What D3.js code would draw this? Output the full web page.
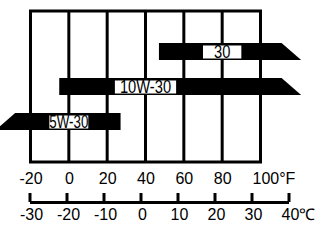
<!DOCTYPE html>
<html>
<head>
<meta charset="utf-8">
<script src="https://cdn.jsdelivr.net/npm/d3@7"></script>
<style>
  body { margin: 0; background: #fff; }
  svg { display: block; }
</style>
</head>
<body>
<svg id="chart" width="327" height="241"></svg>
<script>
// oil grades and their temperature ranges (deg F)
var grades = ['30', '10W-30', '5W-30'];
var lowF = [47, -5, -28];
var highF = [111, 111, 27];
var openEnd = ['right', 'right', 'left'];
var labelAtF = [80, 40, 0];

var fTicks = [-20, 0, 20, 40, 60, 80, 100];
var cTicks = [-30, -20, -10, 0, 10, 20, 30, 40];

// style
var labelPad = [11, 5, 0];
var labelSquash = [0.84, 0.84, 0.76];
var ink = '#000';

var svg = d3.select('#chart');

var x = d3.scaleLinear().domain([-20, 100]).range([30.5, 260.5]);
var xc = d3.scaleLinear().domain([-30, 40]).range([29.5, 288.5]);
var y = d3.scaleBand().domain(grades).range([43, 130]).paddingInner(0.514);

var boxTop = 11, boxBottom = 162;

// grid
svg.append('g').selectAll('line')
  .data(fTicks)
  .enter().append('line')
  .attr('x1', function(d) { return x(d); })
  .attr('x2', function(d) { return x(d); })
  .attr('y1', boxTop)
  .attr('y2', boxBottom)
  .attr('stroke', ink)
  .attr('stroke-width', 3);

svg.append('rect')
  .attr('x', x(-20)).attr('y', boxTop)
  .attr('width', x(100) - x(-20)).attr('height', boxBottom - boxTop)
  .attr('fill', 'none').attr('stroke', ink).attr('stroke-width', 3);

// bars
var bars = grades.map(function(g, i) {
  return { name: g, lo: lowF[i], hi: highF[i], end: openEnd[i], at: labelAtF[i], pad: labelPad[i], sq: labelSquash[i] };
});

var bh = y.bandwidth();
var slant = bh * 1.15;

svg.append('g').selectAll('path')
  .data(bars)
  .enter().append('path')
  .attr('fill', ink)
  .attr('d', function(d) {
    var y0 = y(d.name), y1 = y0 + bh;
    var x0 = x(d.lo), x1 = x(d.hi);
    if (d.end === 'right') {
      return 'M' + x0 + ',' + y0 + 'L' + x1 + ',' + y0 + 'L' + (x1 + slant) + ',' + y1 + 'L' + x0 + ',' + y1 + 'Z';
    }
    return 'M' + x0 + ',' + y0 + 'L' + x1 + ',' + y0 + 'L' + x1 + ',' + y1 + 'L' + (x0 - slant) + ',' + y1 + 'Z';
  });

var lab = svg.append('g').selectAll('g')
  .data(bars)
  .enter().append('g');

lab.append('rect').attr('fill', '#fff');
lab.append('text')
  .attr('x', function(d) { return x(d.at); })
  .attr('y', function(d) { return y(d.name) + bh / 2 + 6.3; })
  .attr('text-anchor', 'middle')
  .attr('font-family', '"Liberation Sans", Arial, sans-serif')
  .attr('font-size', 17.5)
  .attr('fill', ink)
  .text(function(d) { return d.name; });

// narrow the label text like a condensed face
lab.each(function(d) {
  var g = d3.select(this);
  var t = g.select('text');
  var tw = t.node().getComputedTextLength() * d.sq;
  t.attr('textLength', tw).attr('lengthAdjust', 'spacingAndGlyphs');
  var w = tw + d.pad * 2;
  g.select('rect')
    .attr('x', x(d.at) - w / 2)
    .attr('y', y(d.name) + 2.5)
    .attr('width', w)
    .attr('height', bh - 4);
});

// fahrenheit labels
var fAxis = svg.append('g')
  .attr('transform', 'translate(0,' + boxBottom + ')')
  .call(d3.axisBottom(x).tickValues(fTicks).tickSize(0).tickPadding(11)
    .tickFormat(function(d) { return d === 100 ? '100°F' : d; }));
fAxis.select('.domain').remove();
fAxis.selectAll('text')
  .attr('font-family', '"Liberation Sans", Arial, sans-serif')
  .attr('font-size', 16)
  .attr('fill', ink)
  .filter(function(d) { return d === 100; })
  .attr('text-anchor', 'start')
  .attr('dx', -8.5);

// celsius axis
var cAxis = svg.append('g')
  .attr('transform', 'translate(0,202)')
  .call(d3.axisBottom(xc).tickValues(cTicks).tickSizeInner(-9).tickSizeOuter(0).tickPadding(7)
    .tickFormat(function(d) { return d === 40 ? '40℃' : d; }));
cAxis.select('.domain').attr('stroke', ink).attr('stroke-width', 3);
cAxis.selectAll('.tick line').attr('stroke', ink).attr('stroke-width', 3);
cAxis.selectAll('text')
  .attr('font-family', '"Liberation Sans", Arial, sans-serif')
  .attr('font-size', 16)
  .attr('fill', ink)
  .attr('dx', 1.5)
  .filter(function(d) { return d === 40; })
  .attr('text-anchor', 'start')
  .attr('dx', -7.5);
</script>
</body>
</html>
